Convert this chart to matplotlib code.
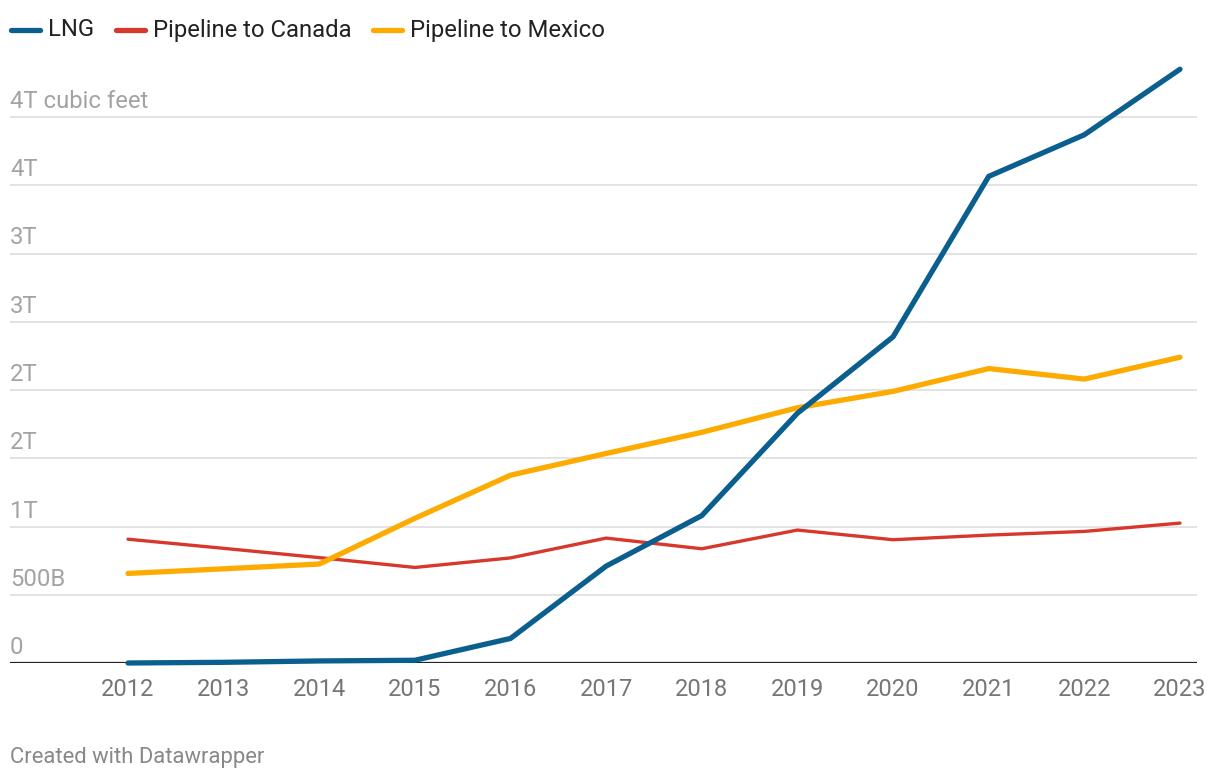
import matplotlib
matplotlib.use("Agg")
import matplotlib.pyplot as plt
import matplotlib.transforms as mtransforms
from matplotlib.lines import Line2D

plt.rcParams['font.family'] = ['Roboto', 'DejaVu Sans']

years = [2012, 2013, 2014, 2015, 2016, 2017, 2018, 2019, 2020, 2021, 2022, 2023]
lng = [0.0, 0.005, 0.015, 0.02, 0.18, 0.71, 1.08, 1.83, 2.39, 3.565, 3.87, 4.35]
canada = [0.907, 0.84, 0.772, 0.70, 0.77, 0.915, 0.837, 0.974, 0.903, 0.937, 0.964, 1.025]
mexico = [0.656, 0.69, 0.725, 1.06, 1.376, 1.535, 1.69, 1.87, 1.99, 2.157, 2.08, 2.24]

series_names = ["LNG", "Pipeline to Canada", "Pipeline to Mexico"]
series_colors = ["#0a5f8e", "#d7382c", "#fdab00"]
series_widths = [3.8, 2.4, 3.8]

ytick_vals = [0, 0.5, 1.0, 1.5, 2.0, 2.5, 3.0, 3.5, 4.0]
ytick_labels = ["0", "500B", "1T", "2T", "2T", "3T", "3T", "4T", "4T cubic feet"]

W, H = 1220, 780
fig = plt.figure(figsize=(W / 100, H / 100), dpi=100)
left_px, right_px, bottom_px, top_px = 10, 1197, 663, 60
ax = fig.add_axes([left_px / W, (H - bottom_px) / H,
                   (right_px - left_px) / W, (bottom_px - top_px) / H])

for vals, c, lw, z in zip([canada, mexico, lng], [series_colors[1], series_colors[2], series_colors[0]],
                          [series_widths[1], series_widths[2], series_widths[0]], [3, 4, 5]):
    ax.plot(years, vals, color=c, lw=lw, solid_capstyle='round', solid_joinstyle='round',
            clip_on=False, zorder=z)

per_year = (1180 - 128) / 11
ax.set_xlim(2012 - (128 - left_px) / per_year, 2023 + (right_px - 1180) / per_year)
per_t = (663 - 117) / 4.0
ax.set_ylim(0, (bottom_px - top_px) / per_t)

for s in ax.spines.values():
    s.set_visible(False)
ax.set_yticks([])
ax.set_xticks(years)
ax.set_xticklabels([str(y) for y in years], fontsize=17, color="#767676")
ax.tick_params(axis='x', length=0, pad=11)

for v in ytick_vals[1:]:
    ax.axhline(v, color="#e3e3e3", lw=1.4, zorder=1)
ax.axhline(0, color="#222222", lw=1.6, zorder=2)

offset = mtransforms.offset_copy(ax.get_yaxis_transform(), fig=fig, x=0, y=9, units='dots')
for v, lab in zip(ytick_vals, ytick_labels):
    ax.text(0, v, lab, transform=offset, ha='left', va='baseline',
            fontsize=17.2, color="#a3a3a3")

# legend
leg_x = [11, 116, 373]
leg_y = 1 - 30 / H
for x0, name, c in zip(leg_x, series_names, series_colors):
    fig.add_artist(Line2D([x0 / W, (x0 + 29) / W], [leg_y, leg_y], color=c, lw=3.8,
                          solid_capstyle='round', transform=fig.transFigure))
    fig.text((x0 + 37) / W, leg_y, name, ha='left', va='center', fontsize=17.2, color="#222222")

fig.text(10 / W, 1 - 757 / H, "Created with Datawrapper", ha='left', va='center',
         fontsize=15.8, color="#888888")

fig.savefig("out.png", dpi=100)
